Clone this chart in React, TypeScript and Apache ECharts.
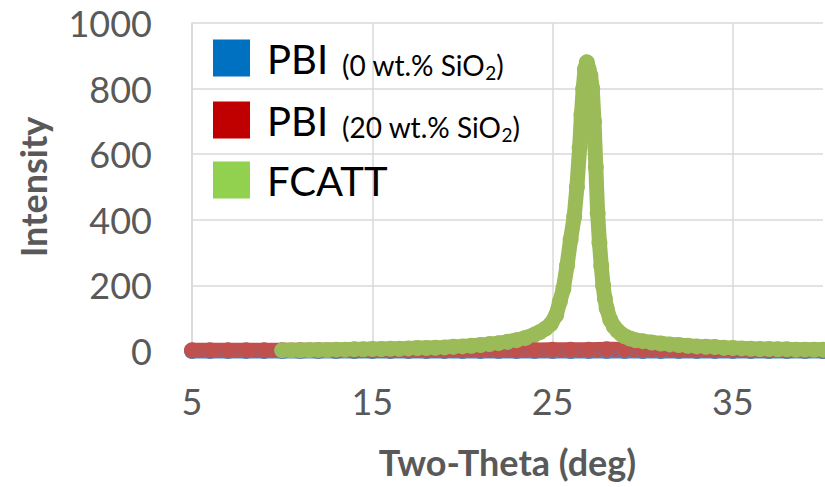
import React, { useEffect, useRef } from "react";
import * as echarts from "echarts";

const seriesNames = ["PBI (0 wt.% SiO2)", "PBI (20 wt.% SiO2)", "FCATT"];
const legendColors = ["#0070C0", "#C00000", "#92D050"];
const seriesColors = ["#4F81BD", "#C0504D", "#9BBB59"];

const pbiX = [5, 6, 7, 8, 9, 10, 11, 12, 13, 14, 15, 16, 17, 18, 19, 20, 21, 22, 23, 24, 25, 26, 27, 28, 29, 30, 31, 32, 33, 34, 35, 36, 37, 38, 39, 40];
const pbi0Y = [0, 0, 0, 0, 0, 0, 0, 0, 0, 0, 0, 0, 0, 0, 0, 0, 0, 0, 0, 0, 0, 0, 0, 0, 0, 0, 0, 0, 0, 0, 0, 0, 0, 0, 0, 0];
const pbi20Y = [2, 2, 2, 2, 2, 2, 2, 2, 2, 2, 2, 2, 2, 2, 2, 3, 3, 3, 3, 3, 4, 4, 4, 5, 5, 4, 4, 3, 3, 3, 3, 2, 2, 2, 2, 2];

const fcattX = [10, 10.5, 11, 11.5, 12, 12.5, 13, 13.5, 14, 14.5, 15, 15.5, 16, 16.5, 17, 17.5, 18, 18.5, 19, 19.5, 20, 20.5, 21, 21.5, 22, 22.5, 23, 23.5, 24, 24.3, 24.6, 24.9, 25.2, 25.4, 25.6, 25.8, 26.0, 26.2, 26.35, 26.5, 26.6, 26.7, 26.8, 26.9, 27.0, 27.1, 27.2, 27.3, 27.4, 27.5, 27.6, 27.7, 27.8, 27.9, 28.0, 28.2, 28.4, 28.6, 28.8, 29.0, 29.3, 29.6, 30.0, 30.5, 31, 31.5, 32, 32.5, 33, 33.5, 34, 34.5, 35, 35.5, 36, 36.5, 37, 37.5, 38, 38.5, 39, 39.5, 40];
const fcattY = [2, 2, 2, 3, 3, 3, 4, 4, 5, 5, 6, 6, 7, 7, 8, 9, 9, 10, 11, 13, 14, 16, 18, 21, 24, 28, 33, 40, 50, 58, 68, 82, 110, 150, 190, 260, 340, 410, 500, 620, 720, 800, 860, 880, 860, 840, 800, 700, 560, 420, 330, 260, 200, 160, 130, 95, 75, 62, 52, 45, 38, 33, 30, 26, 23, 20, 18, 16, 14, 13, 12, 10, 9, 8, 7, 6, 6, 5, 5, 4, 4, 4, 4];

const xTickLabels = [5, 15, 25, 35];
const xMin = 5;
const xMax = 40;
const yMin = 0;
const yMax = 1000;
const yStep = 200;

const legendLabels: Record<string, string> = {
  "PBI (0 wt.% SiO2)": "{a|PBI}{b|(0 wt.% SiO}{s|2}{c|)}",
  "PBI (20 wt.% SiO2)": "{a|PBI}{b|(20 wt.% SiO}{s|2}{c|)}",
  FCATT: "{a|FCATT}",
};

export default function App() {
  const ref = useRef<HTMLDivElement>(null);
  useEffect(() => {
    document.body.style.margin = "0";
    if (!ref.current) return;
    const chart = echarts.init(ref.current, undefined, { renderer: "svg" });
    const xs = [pbiX, pbiX, fcattX];
    const ys = [pbi0Y, pbi20Y, fcattY];
    chart.setOption({
      animation: false,
      textStyle: { fontFamily: "Lato" },
      grid: { left: 192, right: 2, top: 23, bottom: 136, outerBoundsMode: "none", containLabel: false },
      legend: {
        orient: "vertical",
        left: 208,
        top: 32,
        itemWidth: 37,
        itemHeight: 37,
        itemGap: 17,
        icon: "rect",
        selectedMode: false,
        data: seriesNames.map((n, i) => ({ name: n, itemStyle: { color: legendColors[i] } })),
        formatter: (n: string) => legendLabels[n],
        textStyle: {
          rich: {
            a: { fontSize: 40, color: "#000", lineHeight: 42, verticalAlign: "bottom", padding: [0, 0, 0, 12], fontFamily: "Lato" },
            b: { fontSize: 28, color: "#000", lineHeight: 32, verticalAlign: "bottom", padding: [0, 0, 0, 14], fontFamily: "Lato" },
            c: { fontSize: 28, color: "#000", lineHeight: 32, verticalAlign: "bottom", fontFamily: "Lato" },
            s: { fontSize: 19, color: "#000", lineHeight: 10, verticalAlign: "top", padding: [26, 0, 0, 0], fontFamily: "Lato" },
          },
        },
      },
      xAxis: {
        type: "value",
        min: xMin,
        max: xMax,
        interval: 5,
        name: "Two-Theta (deg)",
        nameLocation: "middle",
        nameGap: 93,
        nameTextStyle: { fontSize: 36, fontWeight: "bold", color: "#595959", fontFamily: "Lato" },
        axisLine: { show: true, lineStyle: { color: "#d9d9d9", width: 1.5 } },
        axisTick: { show: false },
        axisLabel: {
          fontSize: 36,
          color: "#595959",
          margin: 32,
          formatter: (v: number) => (xTickLabels.includes(v) ? String(v) : ""),
        },
        splitLine: { show: true, lineStyle: { color: ["#d9d9d9", "rgba(0,0,0,0)"], width: 1.5 } },
      },
      yAxis: {
        type: "value",
        min: yMin,
        max: yMax,
        interval: yStep,
        name: "Intensity",
        nameLocation: "middle",
        nameGap: 141,
        nameTextStyle: { fontSize: 36, fontWeight: "bold", color: "#595959", fontFamily: "Lato" },
        axisLine: { show: true, lineStyle: { color: "#d9d9d9", width: 1.5 } },
        axisTick: { show: false },
        axisLabel: { fontSize: 36, color: "#595959", margin: 40, formatter: (v: number) => String(v) },
        splitLine: { show: true, lineStyle: { color: "#d9d9d9", width: 1.5 } },
      },
      series: seriesNames.map((n, i) => ({
        name: n,
        type: "line",
        data: xs[i].map((x, j) => [x, ys[i][j]]),
        symbol: "circle",
        symbolSize: 16,
        showSymbol: true,
        itemStyle: { color: seriesColors[i] },
        lineStyle: { color: seriesColors[i], width: 15, cap: "round", join: "round" },
        silent: true,
        emphasis: { disabled: true },
        clip: false,
      })),
    });
    return () => chart.dispose();
  }, []);
  return <div ref={ref} style={{ width: 825, height: 487 }} />;
}
